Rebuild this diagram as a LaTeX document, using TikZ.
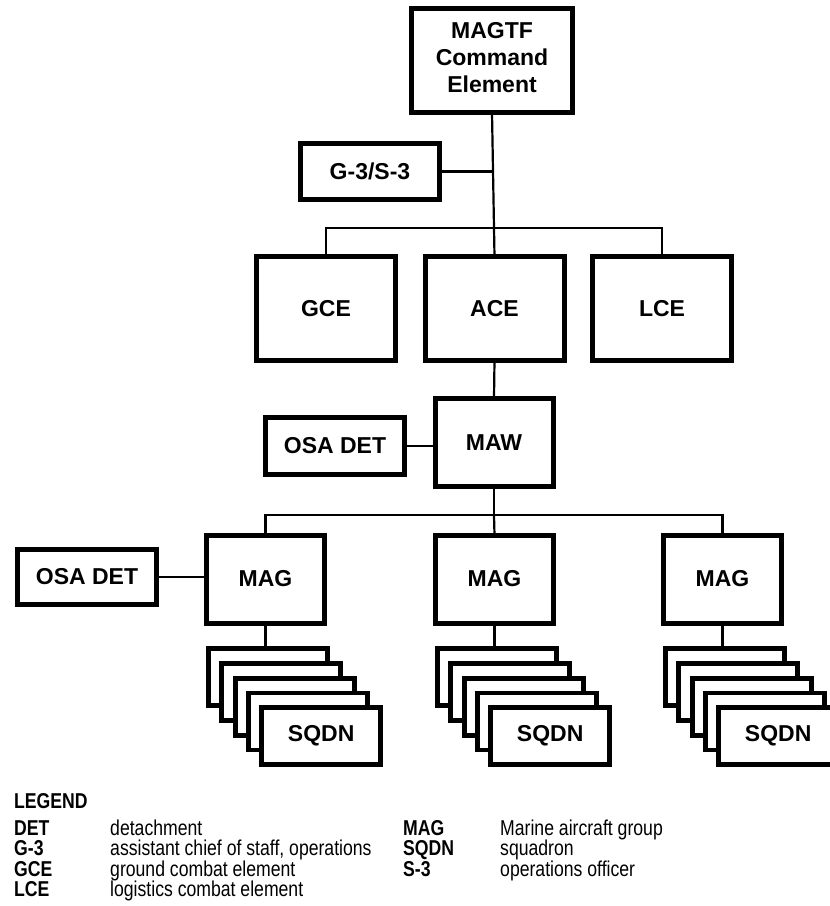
\documentclass[tikz,border=0pt]{standalone}
\usepackage{fontspec}
\setmainfont{Liberation Sans}
\newfontfamily\narrowfont[FakeStretch=0.82]{Liberation Sans}
\begin{document}
\begin{tikzpicture}[x=1pt,y=-1pt,
  unit/.style={draw, line width=5pt, fill=white,
    font=\fontsize{23}{27}\selectfont\bfseries, align=center,
    inner sep=0pt, outer sep=0pt},
  bigbox/.style={unit, minimum width=139pt, minimum height=104pt},
  widebox/.style={unit, minimum width=139pt, minimum height=56pt},
  midbox/.style={unit, minimum width=118pt, minimum height=88pt},
  sqbox/.style={unit, line width=4.8pt, minimum width=119pt, minimum height=57pt},
  link/.style={line width=2.2pt},
  legabbr/.style={anchor=base west, inner sep=0pt,
    font=\narrowfont\bfseries\fontsize{21.5}{21.5}\selectfont},
  legtext/.style={anchor=base west, inner sep=0pt,
    font=\narrowfont\fontsize{21.5}{21.5}\selectfont}]

\useasboundingbox (0,0) rectangle (830,906);
\clip (0,0) rectangle (830,906);
\fill[white] (0,0) rectangle (830,906);

% command level
\node[unit, minimum width=161pt, minimum height=104pt] (cmd) at (492,60.5) {};
\node[font=\fontsize{23}{27}\selectfont\bfseries, align=center, inner sep=0pt]
  (cmdtext) at (492,58) {MAGTF\\Command\\Element};
\node[widebox] (g3) at (370,171.5) {G-3/S-3};

% major subordinate elements
\node[bigbox] (gce) at (326,308.5) {GCE};
\node[bigbox] (ace) at (494.5,308.5) {ACE};
\node[bigbox] (lce) at (662,308.5) {LCE};

% wing
\node[midbox] (maw) at (494,442.5) {MAW};
\node[widebox, minimum height=57pt] (osa1) at (335,446) {OSA DET};

% groups
\node[midbox] (mag1) at (265.5,579) {MAG};
\node[midbox] (mag2) at (494.5,579) {MAG};
\node[midbox] (mag3) at (722.5,579) {MAG};
\node[widebox, minimum height=55pt] (osa2) at (87,577) {OSA DET};

% squadron stacks
\foreach \i/\c in {1/265.5, 2/494.5, 3/722.5} {
  \foreach \k in {0,...,3} {
    \node[sqbox] (sq\i-\k) at ({\c+2.5+13.3*\k},{677+14.8*\k}) {};
  }
  \node[sqbox] (sq\i-4) at ({\c+2.5+13.3*4},{677+14.8*4}) {SQDN};
}

% connectors
\coordinate (bus1) at (494,228);
\coordinate (bus2) at (494,515);
\draw[link] (cmd.south) -- (ace.north);
\draw[link] (g3.east) -- (g3.east -| cmd.south);
\draw[link] (gce.north) |- (bus1) -| (lce.north);
\draw[link] (ace.south) -- (maw.north);
\draw[link] (osa1.east) -- (osa1.east -| maw.west);
\draw[link] (maw.south) -- (bus2);
\draw[link] (mag1.north) |- (bus2) -| (mag3.north);
\draw[link] (bus2) -- (mag2.north);
\draw[link] (osa2.east) -- (osa2.east -| mag1.west);
\foreach \i in {1,2,3} {
  \draw[link] (mag\i.south) -- (mag\i.south |- sq\i-0.north);
}

% legend
\node[legabbr] (leg) at (14,808) {LEGEND};
\node[legabbr] (a1) at (14,835)   {DET};
\node[legabbr] (a2) at (14,855.5) {G-3};
\node[legabbr] (a3) at (14,876)   {GCE};
\node[legabbr] (a4) at (14,896.5) {LCE};
\node[legtext] (d1) at (110,835)   {detachment};
\node[legtext] (d2) at (110,855.5) {assistant chief of staff, operations};
\node[legtext] (d3) at (110,876)   {ground combat element};
\node[legtext] (d4) at (110,896.5) {logistics combat element};
\node[legabbr] (b1) at (403,835)   {MAG};
\node[legabbr] (b2) at (403,855.5) {SQDN};
\node[legabbr] (b3) at (403,876)   {S-3};
\node[legtext] (e1) at (500,835)   {Marine aircraft group};
\node[legtext] (e2) at (500,855.5) {squadron};
\node[legtext] (e3) at (500,876)   {operations officer};
\end{tikzpicture}
\end{document}
